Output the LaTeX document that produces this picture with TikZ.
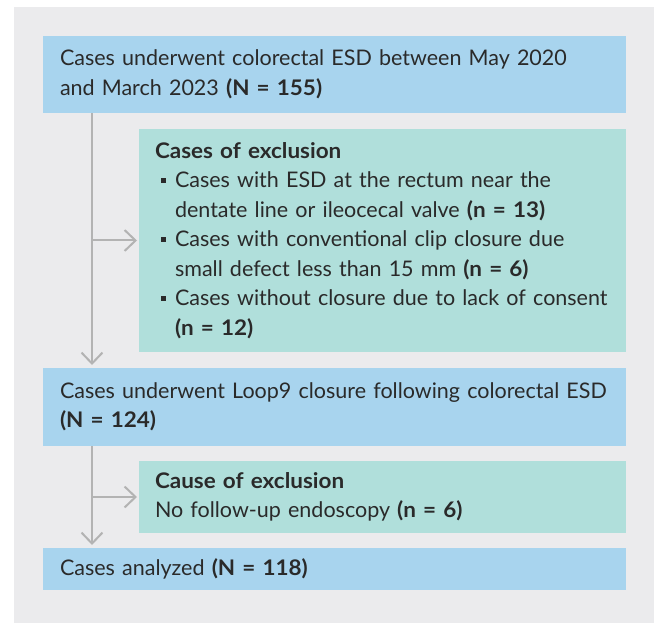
\documentclass[tikz,border=0pt]{standalone}
\usepackage{fontspec}
\setmainfont{Lato}[BoldFeatures={FakeStretch=1.045}]
\usetikzlibrary{arrows.meta}
\definecolor{panelgray}{HTML}{EBEBED}
\definecolor{boxblue}{HTML}{A8D4EE}
\definecolor{boxgreen}{HTML}{B0DFDB}
\definecolor{linegray}{HTML}{B3B3B3}
\definecolor{txt}{HTML}{2A2A2A}
\newcommand\bul{\leavevmode\llap{\rule[5pt]{5pt}{5pt}\hspace{9pt}}}
\tikzset{
  basebox/.style={anchor=north west, inner ysep=0pt, align=left, text=txt,
    font=\fontsize{21.5}{29.5}\selectfont, outer sep=0pt},
  bluebox/.style={basebox, fill=boxblue, inner xsep=17pt, text width=549pt, minimum width=583pt},
  greenbox/.style={basebox, fill=boxgreen, inner xsep=16pt, text width=455pt, minimum width=487pt},
  flow/.style={draw=linegray, line width=2pt, -{Straight Barb[length=11pt,width=21pt,line width=2pt]}}
}
\begin{document}
\begin{tikzpicture}[x=1pt,y=-1pt]
\useasboundingbox (0,0) rectangle (654,623);
\fill[panelgray] (14,7) rectangle (654,623);
\node[bluebox, minimum height=77pt] (b1) at (43,36)
  {Cases underwent colorectal ESD between May 2020\\and March 2023 \textbf{(N = 155)}};
\node[greenbox, minimum height=223pt] (b2) at (139,129)
  {\textbf{Cases of exclusion}\par
   \leftskip=20pt
   \bul Cases with ESD at the rectum near the\\dentate line or ileocecal valve \textbf{(n = 13)}\par
   \bul Cases with conventional clip closure due\\small defect less than 15 mm \textbf{(n = 6)}\par
   \bul Cases without closure due to lack of consent\\\textbf{(n = 12)}\par};
\node[bluebox, minimum height=78pt] (b3) at (43,368)
  {Cases underwent Loop9 closure following colorectal ESD\\\textbf{(N = 124)}};
\node[greenbox, minimum height=72pt] (b4) at (139,461)
  {\textbf{Cause of exclusion}\\No follow-up endoscopy \textbf{(n = 6)}};
\node[bluebox, minimum height=42pt] (b5) at (43,548)
  {Cases analyzed \textbf{(N = 118)}};
\coordinate (t1) at ([xshift=49pt]b1.south west);
\coordinate (t2) at ([xshift=49pt]b3.south west);
\draw[flow] (t1) -- ([yshift=3pt]t1 |- b3.north);
\draw[flow] (t1 |- b2.west) -- ([xshift=-2pt]b2.west);
\draw[flow] (t2) -- ([yshift=3pt]t2 |- b5.north);
\draw[flow] (t2 |- b4.west) -- ([xshift=-2pt]b4.west);
\end{tikzpicture}
\end{document}
